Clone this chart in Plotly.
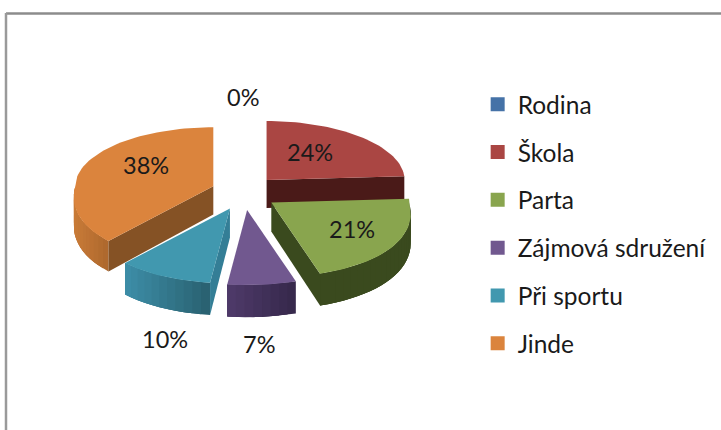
import math
import plotly.graph_objects as go

categories = ["Rodina", "Škola", "Parta", "Zájmová sdružení", "Při sportu", "Jinde"]
percent = [0, 24, 21, 7, 10, 38]
colors = ["#4572A7", "#AA4643", "#89A54E", "#71588F", "#4198AF", "#DB843D"]

# Appearance of the extruded sides: (left end of wall, right end of wall, radial wall)
wall_shade = {
    "Škola": ("#4A1A18", "#4A1A18", "#4A1A18"),
    "Parta": ("#3A4A1E", "#3A4A1E", "#3A4A1E"),
    "Zájmová sdružení": ("#4F3A6A", "#35284A", "#35284A"),
    "Při sportu": ("#3D8EA8", "#29606F", "#347E96"),
    "Jinde": ("#C97B38", "#AD682D", "#855225"),
}
label_xy = {
    "Rodina": (243, 97), "Škola": (310, 152), "Parta": (352, 229),
    "Zájmová sdružení": (259, 344), "Při sportu": (165, 339), "Jinde": (146, 165),
}
draw_order = ["Škola", "Jinde", "Parta", "Při sportu", "Zájmová sdružení"]

CX, CY = 244.0, 192.7
PULL_X, PULL_Y = 33.0, 17.4
RX, RY_BACK, RY_FRONT = 138.0, 59.0, 75.0


def rim(t, ox, oy):
    c, s = math.cos(t), math.sin(t)
    rx = RX * (1 + 0.15 * max(0.0, -c))
    ry = RY_BACK if c >= 0 else RY_FRONT
    return ox + rx * s, oy - ry * c


def depth(y):
    return 28 + 4 * (y - 180) / 100


def hexmix(a, b, f):
    pa = [int(a[i:i + 2], 16) for i in (1, 3, 5)]
    pb = [int(b[i:i + 2], 16) for i in (1, 3, 5)]
    return "#%02x%02x%02x" % tuple(round(p + (q - p) * f) for p, q in zip(pa, pb))


fig = go.Figure()


def poly(pts, color):
    fig.add_trace(go.Scatter(
        x=[p[0] for p in pts] + [pts[0][0]], y=[p[1] for p in pts] + [pts[0][1]],
        mode="lines", fill="toself", fillcolor=color,
        line=dict(color=color, width=0), hoverinfo="skip", showlegend=False))


def drop(p):
    return (p[0], p[1] + depth(p[1]))


spans, acc = {}, 0.0
for name, v in zip(categories, percent):
    a0 = acc / sum(percent) * 2 * math.pi
    acc += v
    spans[name] = (a0, acc / sum(percent) * 2 * math.pi)

for name in draw_order:
    a0, a1 = spans[name]
    color = colors[categories.index(name)]
    mid = (a0 + a1) / 2
    ox, oy = CX + PULL_X * math.sin(mid), CY - PULL_Y * math.cos(mid)
    apex = (ox, oy)
    left, right, radial = wall_shade[name]
    # outer wall, painted in overlapping bands so no seams show
    w0, w1 = max(a0, math.pi / 2), min(a1, 3 * math.pi / 2)
    if w1 > w0:
        n = max(2, int((w1 - w0) / math.radians(3)))
        pts = [rim(w0 + (w1 - w0) * i / n, ox, oy) for i in range(n + 1)]
        xs = [p[0] for p in pts]
        for i in range(n):
            f = ((pts[i][0] + pts[i + 1][0]) / 2 - min(xs)) / (max(xs) - min(xs))
            band = pts[i:i + 4]
            poly(band + [drop(p) for p in reversed(band)], hexmix(left, right, f))
    # radial walls facing the viewer
    for ang, sign in ((a0, 1), (a1, -1)):
        e = rim(ang, ox, oy)
        dx, dy = e[0] - ox, e[1] - oy
        ny = -dx if sign > 0 else dx
        if ny > 0.5:
            poly([apex, e, drop(e), drop(apex)], radial)
    # top face
    n = max(4, int((a1 - a0) / math.radians(2)))
    poly([apex] + [rim(a0 + (a1 - a0) * i / n, ox, oy) for i in range(n + 1)], color)

for name, col in zip(categories, colors):
    fig.add_trace(go.Scatter(
        x=[None], y=[None], mode="markers", name=name, legendgroup=name,
        marker=dict(symbol="square", size=14, color=col), hoverinfo="skip"))

annotations = [
    dict(x=label_xy[n][0], y=label_xy[n][1], text=f"{v}%", showarrow=False,
         xref="x", yref="y", font=dict(family="Lato", size=23.5, color="#1a1a1a"))
    for n, v in zip(categories, percent)
]

fig.update_layout(
    width=721, height=430, margin=dict(l=0, r=0, t=0, b=0),
    paper_bgcolor="white", plot_bgcolor="white",
    xaxis=dict(range=[0, 721], visible=False, fixedrange=True),
    yaxis=dict(range=[430, 0], visible=False, fixedrange=True),
    annotations=annotations,
    legend=dict(x=0.6625, y=0.81, xanchor="left", yanchor="top", tracegroupgap=13,
                font=dict(family="Lato", size=24.5, color="#1a1a1a"),
                bgcolor="rgba(0,0,0,0)", itemclick=False, itemdoubleclick=False),
    shapes=[
        dict(type="line", xref="x", yref="y", x0=6, y0=13.5, x1=721, y1=13.5,
             line=dict(color="#8c8c8c", width=2.5)),
        dict(type="line", xref="x", yref="y", x0=6, y0=13, x1=6, y1=430,
             line=dict(color="#9a9a9a", width=2.5)),
    ],
)
fig.write_html("out.html", config={"displayModeBar": False},
               post_script="document.body.style.margin='0';document.body.style.overflow='hidden';")
